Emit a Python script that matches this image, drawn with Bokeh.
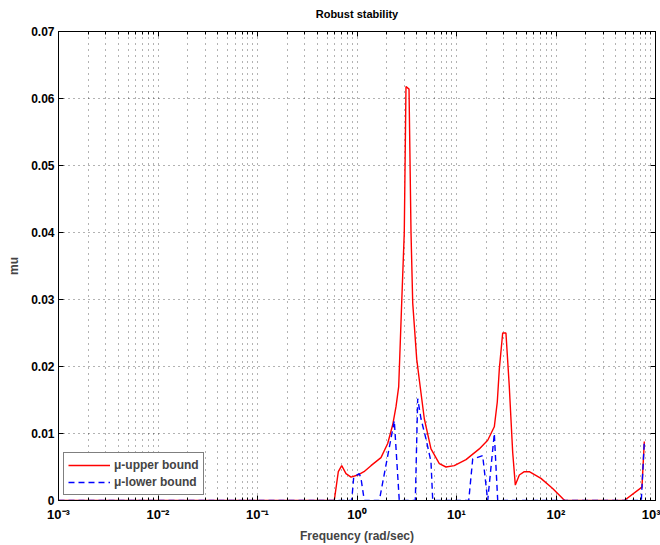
from bokeh.plotting import figure
from bokeh.models import FixedTicker, LogAxis, LinearAxis, Range1d, CustomJSTickFormatter
from bokeh.embed import file_html
from bokeh.resources import INLINE

# ---- data ----
freq_upper = [0.001, 0.591, 0.649, 0.702, 0.775, 0.871, 1.016, 1.175, 1.382, 1.742,
              2.035, 2.285, 2.466, 2.625, 2.813, 2.986, 3.107, 3.333, 3.490, 3.630,
              3.983, 4.23, 4.748, 5.541, 6.72, 7.84, 9.50, 12.46, 16.94, 20.59,
              23.99, 25.7, 26.93, 29.12, 31.4, 33.9, 36.7, 39.0, 42.8, 48.0,
              53.9, 70.6, 92.6, 116.7, 123.0, 485.0, 731.0, 772.0]
mu_upper = [0.0, 0.0, 0.0043, 0.0052, 0.0040, 0.0035, 0.0038, 0.0043, 0.0052, 0.0064,
            0.0085, 0.0113, 0.0140, 0.0170, 0.0295, 0.0400, 0.0618, 0.0614, 0.0400, 0.0295,
            0.0211, 0.0180, 0.0122, 0.0077, 0.0055, 0.0050, 0.0052, 0.0061, 0.0077, 0.0090,
            0.0110, 0.0147, 0.0196, 0.0250, 0.0250, 0.0171, 0.0072, 0.0023, 0.0038, 0.0043,
            0.0043, 0.0033, 0.0018, 0.0003, 0.0, 0.0, 0.0020, 0.0088]

freq_lower = [0.001, 0.885, 0.927, 1.054, 1.097, 1.184, 1.676, 2.371, 2.66, 3.855,
              4.074, 4.397, 4.935, 5.54, 5.77, 13.27, 14.55, 18.33, 20.59, 23.99,
              25.95, 720.0, 772.0]
mu_lower = [0.0, 0.0, 0.0035, 0.0040, 0.0033, 0.0, 0.0, 0.0119, 0.0, 0.0,
            0.0152, 0.0122, 0.0092, 0.0058, 0.0, 0.0, 0.0062, 0.0067, 0.0, 0.0100,
            0.0, 0.0, 0.0088]

x_ticks = [0.001, 0.01, 0.1, 1, 10, 100, 1000]
x_tick_labels = ["10\u207b\u00b3", "10\u207b\u00b2", "10\u207b\u00b9", "10\u2070",
                 "10\u00b9", "10\u00b2", "10\u00b3"]
y_ticks = [0.0, 0.01, 0.02, 0.03, 0.04, 0.05, 0.06, 0.07]
y_tick_labels = ["0", "0.01", "0.02", "0.03", "0.04", "0.05", "0.06", "0.07"]

FONT = "Liberation Sans"
TITLE = "Robust stability"

x_minor = [m * d for d in x_ticks[:-1] for m in range(2, 10)]

p = figure(width=660, height=545, x_axis_type="log",
           x_range=Range1d(0.001, 1000), y_range=Range1d(0, 0.07),
           output_backend="svg", toolbar_location=None,
           min_border_left=58, min_border_right=5, min_border_top=31, min_border_bottom=43)
p.background_fill_color = "white"
p.border_fill_color = "white"
p.outline_line_color = "black"
p.outline_line_width = 1
p.title.visible = False

xt = FixedTicker(ticks=x_ticks, minor_ticks=x_minor)
yt = FixedTicker(ticks=y_ticks, minor_ticks=[])

for ax in (p.xaxis[0], p.yaxis[0]):
    ax.major_tick_in = 5
    ax.major_tick_out = 0
    ax.minor_tick_in = 3
    ax.minor_tick_out = 0
    ax.major_label_text_font = FONT
    ax.major_label_text_font_size = "12px"
    ax.major_label_text_font_style = "bold"
    ax.major_label_text_color = "black"
    ax.axis_label_text_font = FONT
    ax.axis_label_text_font_size = "12px"
    ax.axis_label_text_font_style = "bold"
    ax.axis_line_color = "black"
    ax.major_tick_line_color = "black"
    ax.minor_tick_line_color = "black"

p.xaxis[0].ticker = xt
p.xaxis[0].formatter = CustomJSTickFormatter(
    args=dict(vals=x_ticks, labs=x_tick_labels),
    code="""
    for (let i = 0; i < vals.length; i++) {
        if (Math.abs(Math.log10(tick) - Math.log10(vals[i])) < 1e-6) return labs[i];
    }
    return '';
    """)
p.xaxis[0].major_label_text_font_size = "13px"
p.xaxis[0].major_label_standoff = 6
p.xaxis[0].axis_label = "Frequency (rad/sec)"
p.xaxis[0].axis_label_standoff = 4

p.yaxis[0].ticker = yt
p.yaxis[0].formatter = CustomJSTickFormatter(
    args=dict(vals=y_ticks, labs=y_tick_labels),
    code="""
    for (let i = 0; i < vals.length; i++) {
        if (Math.abs(tick - vals[i]) < 1e-9) return labs[i];
    }
    return '';
    """)
p.yaxis[0].major_label_standoff = 4
p.yaxis[0].axis_label = "mu"
p.yaxis[0].axis_label_standoff = 7

blank = CustomJSTickFormatter(code="return '';")
top = LogAxis(ticker=xt, formatter=blank, major_tick_in=5, major_tick_out=0, minor_tick_in=3,
              minor_tick_out=0, major_label_standoff=0, axis_line_color="black",
              axis_label=TITLE, axis_label_standoff=12,
              axis_label_text_font=FONT, axis_label_text_font_size="11px",
              axis_label_text_font_style="bold", axis_label_text_color="black")
right = LinearAxis(ticker=yt, formatter=blank, major_tick_in=5, major_tick_out=0, minor_tick_in=0,
                   minor_tick_out=0, major_label_standoff=0, axis_line_color="black")
p.add_layout(top, "above")
p.add_layout(right, "right")

p.xgrid.ticker = xt
p.ygrid.ticker = yt
p.xgrid.grid_line_color = "black"
p.xgrid.grid_line_alpha = 0.6
p.xgrid.grid_line_dash = "1 5"
p.xgrid.minor_grid_line_color = "black"
p.xgrid.minor_grid_line_alpha = 0.6
p.xgrid.minor_grid_line_dash = "1 5"
p.ygrid.grid_line_color = "black"
p.ygrid.grid_line_alpha = 0.6
p.ygrid.grid_line_dash = "1 4"

p.line(freq_upper, mu_upper, line_color="#ff0000", line_width=1.4,
       legend_label="\u03bc-upper bound")
p.line(freq_lower, mu_lower, line_color="#0000ff", line_width=1.4,
       line_dash="6 4", legend_label="\u03bc-lower bound")

lg = p.legend[0]
lg.location = "bottom_left"
lg.margin = 5
lg.padding = 4
lg.spacing = 1
lg.glyph_width = 42
lg.glyph_height = 16
lg.label_standoff = 4
lg.label_text_font = FONT
lg.label_text_font_size = "12px"
lg.label_text_font_style = "bold"
lg.border_line_color = "black"
lg.border_line_width = 1
lg.background_fill_alpha = 1.0

open("out.html", "w").write(file_html(p, INLINE))
